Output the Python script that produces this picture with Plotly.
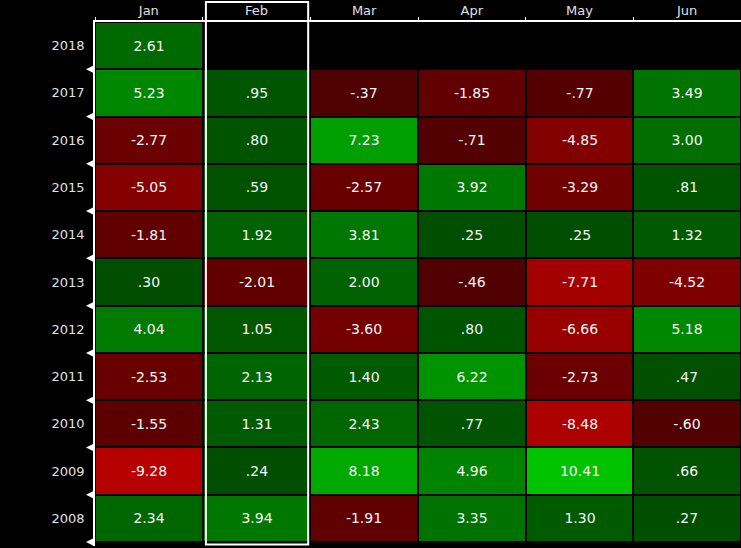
import math
import plotly.graph_objects as go

months = ["Jan", "Feb", "Mar", "Apr", "May", "Jun"]
years = ["2018", "2017", "2016", "2015", "2014", "2013", "2012", "2011", "2010", "2009", "2008"]
nan = float("nan")
r2018 = [2.61, nan, nan, nan, nan, nan]
r2017 = [5.23, 0.95, -0.37, -1.85, -0.77, 3.49]
r2016 = [-2.77, 0.80, 7.23, -0.71, -4.85, 3.00]
r2015 = [-5.05, 0.59, -2.57, 3.92, -3.29, 0.81]
r2014 = [-1.81, 1.92, 3.81, 0.25, 0.25, 1.32]
r2013 = [0.30, -2.01, 2.00, -0.46, -7.71, -4.52]
r2012 = [4.04, 1.05, -3.60, 0.80, -6.66, 5.18]
r2011 = [-2.53, 2.13, 1.40, 6.22, -2.73, 0.47]
r2010 = [-1.55, 1.31, 2.43, 0.77, -8.48, -0.60]
r2009 = [-9.28, 0.24, 8.18, 4.96, 10.41, 0.66]
r2008 = [2.34, 3.94, -1.91, 3.35, 1.30, 0.27]
rows = [r2018, r2017, r2016, r2015, r2014, r2013, r2012, r2011, r2010, r2009, r2008]
highlight_month = "Feb"


def fmt(v):
    if v is None or (isinstance(v, float) and math.isnan(v)):
        return ""
    s = f"{v:.2f}"
    if s.startswith("0."):
        s = s[1:]
    elif s.startswith("-0."):
        s = "-" + s[2:]
    return s


text = [[fmt(v) for v in r] for r in rows]
vmax = max(abs(v) for r in rows for v in r if not math.isnan(v))

fig = go.Figure(
    go.Heatmap(
        z=rows,
        x=months,
        y=years,
        text=text,
        texttemplate="%{text}",
        textfont=dict(family="DejaVu Sans", size=14, color="#f6f6f6"),
        zmin=-vmax,
        zmax=vmax,
        colorscale=[
            [0.0, "rgb(195,0,0)"],
            [0.5, "rgb(75,0,0)"],
            [0.5, "rgb(0,75,0)"],
            [1.0, "rgb(0,195,0)"],
        ],
        showscale=False,
        xgap=2,
        ygap=2,
        hoverongaps=False,
    )
)

shapes = []
# triangle markers on the left axis at each row's lower boundary
for i in range(len(years)):
    shapes.append(
        dict(
            type="path",
            xref="paper",
            yref="y",
            xsizemode="pixel",
            ysizemode="pixel",
            xanchor=0,
            yanchor=i + 0.5,
            path="M -9,0 L -1,-4 L -1,4 Z",
            fillcolor="white",
            line=dict(width=0),
            layer="above",
        )
    )
hi = months.index(highlight_month)
shapes.append(
    dict(
        type="rect",
        xref="x",
        yref="paper",
        x0=hi - 0.47,
        x1=hi + 0.48,
        y0=0.003,
        y1=1.038,
        line=dict(color="white", width=2),
        fillcolor="rgba(0,0,0,0)",
        layer="above",
    )
)

fig.update_layout(
    width=741,
    height=548,
    margin=dict(l=95, r=0, t=22, b=2),
    paper_bgcolor="black",
    plot_bgcolor="black",
    font=dict(family="DejaVu Sans", size=13, color="#e0e0e0"),
    shapes=shapes,
    xaxis=dict(
        side="top",
        type="category",
        showline=True,
        linecolor="white",
        linewidth=1.5,
        ticks="outside",
        ticklen=3,
        tickcolor="white",
        tickson="boundaries",
        showgrid=False,
        zeroline=False,
        range=[-0.5, 5.5],
        tickfont=dict(color="#e0e0e0", size=13),
    ),
    yaxis=dict(
        type="category",
        autorange="reversed",
        showline=True,
        linecolor="white",
        linewidth=1.5,
        ticks="",
        ticklabelstandoff=6,
        showgrid=False,
        zeroline=False,
        tickfont=dict(color="#e0e0e0", size=13),
    ),
)

fig.write_html("out.html")
